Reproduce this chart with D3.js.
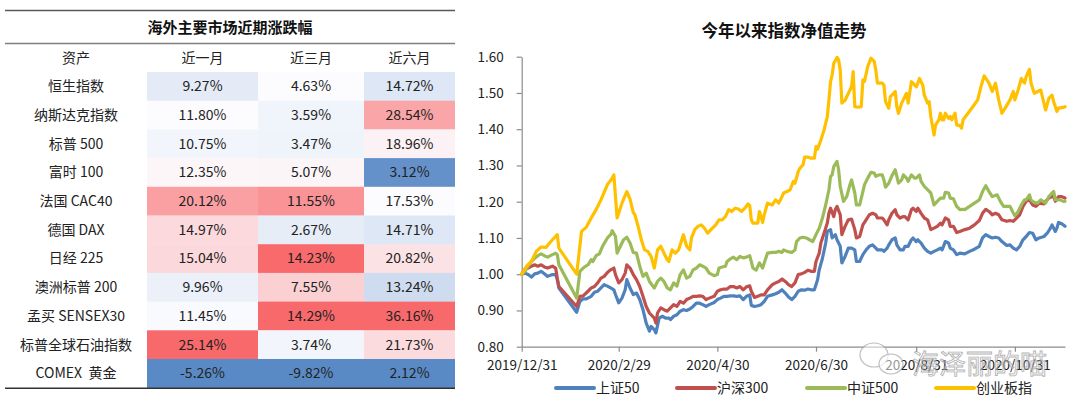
<!DOCTYPE html>
<html><head><meta charset="utf-8">
<script src="https://cdn.jsdelivr.net/npm/d3@7"></script>
<style>
html,body{margin:0;padding:0;background:#fff;}
svg{display:block;font-family:"Noto Sans CJK SC","Noto Sans",sans-serif;}
</style></head>
<body><svg id="c" width="1080" height="411"></svg>
<script>
// ---------------- Table data ----------------
const tableTitle = "海外主要市场近期涨跌幅";
const headers = ["资产", "近一月", "近三月", "近六月"];
const assets = ["恒生指数", "纳斯达克指数", "标普 500", "富时 100", "法国 CAC40", "德国 DAX", "日经 225", "澳洲标普 200", "孟买 SENSEX30", "标普全球石油指数", "COMEX  黄金"];
const m1 = [9.27, 11.80, 10.75, 12.35, 20.12, 14.97, 15.04, 9.96, 11.45, 25.14, -5.26];
const m3 = [4.63, 3.59, 3.47, 5.07, 11.55, 2.67, 14.23, 7.55, 14.29, 3.74, -9.82];
const m6 = [14.72, 28.54, 18.96, 3.12, 17.53, 14.71, 20.82, 13.24, 36.16, 21.73, 2.12];

// ---------------- Line chart data ----------------
const chartTitle = "今年以来指数净值走势";
const startDate = "2019-12-31";
const endDay = 336;
const seriesNames = ["上证50", "沪深300", "中证500", "创业板指"];
const yTicks = [0.8, 0.9, 1.0, 1.1, 1.2, 1.3, 1.4, 1.5, 1.6];
const xTickLabels = ["2019/12/31", "2020/2/29", "2020/4/30", "2020/6/30", "2020/8/31", "2020/10/31"];

// days since 2019/12/31 and net values
const sz50Days = [0,2,4,6,8,10,12,14,16,19,21,22,23,34,36,38,40,43,45,47,49,51,53,55,57,58,60,62,64,65,67,69,71,73,75,77,79,80,82,83,85,87,89,91,92,94,96,98,100,102,104,106,108,110,112,114,116,119,121,123,125,127,129,131,133,135,137,139,141,142,144,146,148,150,152,155,157,159,161,163,165,167,169,171,173,175,177,179,181,183,184,186,188,189,191,192,194,195,197,198,200,202,204,206,207,209,211,213,215,217,219,220,223,224,226,227,229,231,232,234,236,237,239,241,242,244,245,247,249,251,253,255,257,259,260,262,264,265,267,269,271,274,277,280,283,285,287,289,291,293,295,297,300,302,304,306,308,310,312,314,316,318,320,323,325,327,328,330,331,332,334,336];
const sz50 = [1.000,1.003,0.999,0.992,1.001,1.003,1.008,1.001,0.994,0.999,0.999,0.985,0.962,0.895,0.925,0.932,0.932,0.939,0.950,0.953,0.962,0.971,0.967,0.962,0.957,0.944,0.921,0.934,0.957,0.985,0.962,0.944,0.948,0.930,0.902,0.865,0.843,0.856,0.847,0.838,0.879,0.884,0.879,0.879,0.875,0.884,0.888,0.898,0.902,0.900,0.904,0.911,0.920,0.920,0.916,0.911,0.916,0.922,0.930,0.934,0.939,0.939,0.940,0.940,0.939,0.940,0.930,0.939,0.943,0.914,0.911,0.913,0.916,0.925,0.939,0.943,0.946,0.950,0.957,0.948,0.937,0.930,0.939,0.953,0.957,0.956,0.959,0.957,0.957,0.985,1.012,1.044,1.086,1.118,1.123,1.100,1.109,1.095,1.077,1.031,1.049,1.072,1.072,1.067,1.035,1.035,1.054,1.067,1.077,1.081,1.072,1.067,1.067,1.063,1.072,1.081,1.095,1.100,1.081,1.067,1.067,1.077,1.077,1.095,1.100,1.090,1.095,1.086,1.072,1.063,1.058,1.063,1.067,1.072,1.067,1.090,1.086,1.072,1.067,1.054,1.058,1.056,1.063,1.069,1.077,1.100,1.109,1.104,1.100,1.102,1.100,1.090,1.079,1.081,1.072,1.067,1.077,1.095,1.104,1.115,1.113,1.095,1.100,1.104,1.113,1.127,1.136,1.118,1.127,1.143,1.139,1.132];

const hs300Days = [0,2,4,6,8,10,12,14,16,19,21,22,23,34,36,38,41,43,45,47,49,51,53,55,57,58,60,62,64,65,67,69,71,73,75,77,79,82,83,84,86,88,90,92,94,96,98,100,102,104,106,108,110,112,114,116,119,121,123,125,127,129,131,133,135,137,139,141,142,144,146,148,150,152,155,157,159,161,163,165,167,169,171,173,175,177,179,181,182,184,185,187,189,190,191,193,194,195,197,198,200,202,204,206,207,209,211,213,215,217,219,220,223,224,226,227,229,231,232,234,236,237,239,241,242,244,245,247,249,251,253,255,257,259,260,262,264,265,267,269,271,274,277,280,283,285,287,289,291,293,295,297,300,302,304,306,308,310,312,314,316,318,320,323,324,326,328,329,330,332,334,336];
const hs300 = [1.000,1.014,1.017,1.022,1.026,1.022,1.026,1.020,1.017,1.022,1.017,0.989,0.966,0.911,0.939,0.940,0.953,0.962,0.966,0.976,0.989,0.994,1.005,1.012,1.017,0.999,0.976,0.985,1.003,1.026,1.017,0.999,0.985,0.966,0.939,0.911,0.893,0.879,0.865,0.893,0.907,0.902,0.898,0.907,0.916,0.911,0.925,0.920,0.930,0.934,0.939,0.939,0.940,0.939,0.930,0.934,0.939,0.953,0.957,0.959,0.959,0.966,0.966,0.962,0.966,0.957,0.965,0.968,0.953,0.936,0.939,0.943,0.943,0.957,0.971,0.976,0.980,0.987,0.980,0.971,0.966,0.976,0.999,1.001,1.005,1.011,1.008,1.008,1.035,1.058,1.086,1.113,1.141,1.168,1.182,1.159,1.179,1.187,1.164,1.109,1.132,1.150,1.152,1.123,1.100,1.104,1.136,1.150,1.164,1.168,1.164,1.155,1.155,1.150,1.136,1.150,1.168,1.178,1.164,1.155,1.159,1.159,1.150,1.178,1.182,1.173,1.182,1.168,1.155,1.150,1.123,1.127,1.132,1.141,1.136,1.155,1.150,1.132,1.132,1.115,1.118,1.123,1.127,1.136,1.148,1.168,1.179,1.173,1.164,1.168,1.164,1.150,1.146,1.148,1.146,1.155,1.164,1.187,1.201,1.205,1.191,1.187,1.196,1.194,1.201,1.210,1.214,1.214,1.201,1.214,1.214,1.210];

const zz500Days = [0,2,4,6,8,10,12,14,16,19,21,22,23,34,36,38,41,43,44,46,48,50,53,55,56,58,59,61,63,65,67,69,71,73,75,77,79,82,84,86,88,90,92,94,96,98,100,102,104,106,108,110,112,114,116,119,121,122,124,126,127,129,131,133,135,137,139,141,142,143,145,147,149,150,152,155,157,159,161,162,164,167,169,170,172,174,176,178,180,182,184,186,188,190,191,192,193,195,196,197,199,201,203,204,206,207,209,211,212,214,216,218,219,221,223,224,225,227,229,231,232,233,235,236,238,239,241,243,244,246,247,249,251,253,255,257,259,261,262,264,265,267,269,271,273,274,277,280,283,285,287,289,291,294,296,298,300,302,304,305,307,309,311,312,314,315,317,319,321,324,326,328,329,330,333,335,336];
const zz500 = [1.000,1.008,1.022,1.035,1.044,1.051,1.056,1.051,1.047,1.054,1.058,1.054,1.026,0.934,1.008,1.017,1.026,1.040,1.035,1.051,1.056,1.077,1.100,1.109,1.120,1.104,1.058,1.077,1.095,1.102,1.086,1.060,1.058,1.022,0.994,1.003,0.980,0.962,0.980,0.989,0.980,0.962,0.957,0.976,0.967,0.999,1.012,0.989,0.994,1.012,1.017,1.026,1.022,1.017,1.003,0.996,0.999,1.017,1.020,1.022,1.035,1.042,1.047,1.040,1.049,1.045,1.047,1.051,1.035,1.017,1.011,1.031,1.017,1.031,1.058,1.060,1.060,1.063,1.060,1.067,1.063,1.060,1.067,1.090,1.100,1.102,1.100,1.095,1.090,1.109,1.127,1.155,1.191,1.233,1.270,1.274,1.297,1.311,1.288,1.242,1.201,1.214,1.247,1.260,1.224,1.191,1.191,1.228,1.247,1.265,1.281,1.279,1.270,1.274,1.274,1.260,1.240,1.251,1.272,1.288,1.270,1.251,1.260,1.274,1.265,1.256,1.274,1.265,1.265,1.274,1.256,1.242,1.233,1.224,1.191,1.201,1.210,1.210,1.226,1.224,1.210,1.208,1.187,1.178,1.179,1.178,1.187,1.196,1.205,1.228,1.244,1.228,1.214,1.219,1.201,1.187,1.187,1.187,1.169,1.161,1.173,1.191,1.205,1.205,1.219,1.205,1.198,1.196,1.205,1.196,1.214,1.224,1.228,1.205,1.205,1.201,1.201];

const cybDays = [0,3,6,9,12,15,19,22,23,34,37,40,43,46,49,53,56,57,59,62,65,67,69,70,72,74,76,78,80,82,84,86,88,90,91,93,95,97,99,100,102,104,105,107,109,111,113,115,117,120,122,124,126,128,130,132,134,136,138,140,141,142,143,144,146,147,149,150,152,155,157,159,161,162,164,166,168,169,171,172,174,175,177,179,181,182,183,185,187,189,190,191,192,193,195,196,197,198,200,202,204,205,206,208,210,211,212,214,216,218,219,220,223,224,225,227,228,230,231,232,233,235,237,238,239,241,242,244,245,246,248,249,251,252,253,255,256,258,259,260,261,262,264,265,266,268,269,271,272,273,276,279,282,284,286,289,291,293,295,297,299,302,304,305,307,309,311,312,314,315,317,319,321,324,326,328,329,331,332,335,336];
const cyb = [1.000,1.022,1.035,1.063,1.075,1.074,1.095,1.109,1.072,1.000,1.118,1.130,1.155,1.178,1.205,1.247,1.265,1.274,1.155,1.196,1.228,1.207,1.170,1.164,1.132,1.095,1.067,1.063,1.049,1.017,1.067,1.077,1.058,1.040,1.035,1.067,1.058,1.067,1.095,1.109,1.077,1.067,1.100,1.123,1.132,1.136,1.127,1.113,1.123,1.136,1.150,1.150,1.159,1.178,1.173,1.182,1.180,1.173,1.182,1.194,1.190,1.150,1.141,1.141,1.141,1.173,1.143,1.164,1.196,1.191,1.205,1.196,1.214,1.224,1.228,1.233,1.256,1.251,1.283,1.292,1.302,1.323,1.323,1.320,1.320,1.352,1.345,1.370,1.398,1.435,1.480,1.531,1.550,1.582,1.598,1.591,1.563,1.472,1.480,1.499,1.517,1.559,1.462,1.461,1.462,1.536,1.532,1.573,1.596,1.587,1.563,1.527,1.527,1.522,1.476,1.458,1.490,1.499,1.504,1.462,1.444,1.472,1.490,1.499,1.472,1.531,1.527,1.517,1.527,1.540,1.522,1.494,1.472,1.476,1.435,1.384,1.412,1.426,1.444,1.426,1.426,1.444,1.430,1.435,1.426,1.444,1.412,1.410,1.403,1.426,1.444,1.462,1.481,1.517,1.547,1.527,1.504,1.527,1.481,1.444,1.458,1.481,1.504,1.481,1.508,1.540,1.527,1.545,1.565,1.527,1.499,1.504,1.508,1.453,1.485,1.494,1.476,1.449,1.458,1.460,1.462];

// ---------------- Drawing ----------------
const svg = d3.select("#c");
svg.append("rect").attr("width", 1080).attr("height", 411).attr("fill", "#fff");

// ===== Table =====
const T = svg.append("g");
const colEdges = [5, 147, 258, 364, 455];
const rowTop = 72, rowH = 28.7;
const cols = [m1, m3, m6];
const rowY = d3.scaleBand().domain(d3.range(assets.length)).range([rowTop, rowTop + rowH * assets.length]).padding(0);

cols.forEach((vals, ci) => {
  const sorted = vals.slice().sort(d3.ascending);
  const color = d3.scaleLinear()
    .domain([d3.min(vals), d3.quantile(sorted, 0.5), d3.max(vals)])
    .range(["#5A8AC6", "#FCFCFF", "#F8696B"]).interpolate(d3.interpolateRgb);
  const x0 = colEdges[ci + 1], x1 = colEdges[ci + 2];
  T.selectAll(null).data(vals).enter().append("rect")
    .attr("x", x0).attr("y", (d, i) => rowY(i))
    .attr("width", x1 - x0).attr("height", rowY.bandwidth() + 0.3)
    .attr("fill", d => color(d));
  T.selectAll(null).data(vals).enter().append("text")
    .attr("x", (x0 + x1) / 2).attr("y", (d, i) => rowY(i) + rowY.bandwidth() / 2)
    .attr("dy", "0.35em").attr("text-anchor", "middle")
    .attr("font-size", 14).attr("fill", "#222")
    .text(d => d.toFixed(2) + "%");
});
T.selectAll(null).data(assets).enter().append("text")
  .attr("x", (colEdges[0] + colEdges[1]) / 2).attr("y", (d, i) => rowY(i) + rowY.bandwidth() / 2)
  .attr("dy", "0.35em").attr("text-anchor", "middle")
  .attr("font-size", 14).attr("fill", "#222").style("white-space", "pre")
  .text(d => d);
T.selectAll(null).data(headers).enter().append("text")
  .attr("x", (d, i) => (colEdges[i] + colEdges[i + 1]) / 2).attr("y", 58)
  .attr("dy", "0.35em").attr("text-anchor", "middle")
  .attr("font-size", 14).attr("fill", "#222").text(d => d);
T.append("text").attr("x", 230).attr("y", 28).attr("dy", "0.36em")
  .attr("text-anchor", "middle").attr("font-size", 15).attr("font-weight", "bold")
  .attr("fill", "#111").text(tableTitle);
T.append("line").attr("x1", 5).attr("x2", 455).attr("y1", 10.5).attr("y2", 10.5).attr("stroke", "#595959").attr("stroke-width", 1.5);
T.append("line").attr("x1", 5).attr("x2", 455).attr("y1", 43.5).attr("y2", 43.5).attr("stroke", "#7f7f7f").attr("stroke-width", 1.5);
T.append("line").attr("x1", 5).attr("x2", 455).attr("y1", 388.3).attr("y2", 388.3).attr("stroke", "#333").attr("stroke-width", 1.5);

// ===== Line chart =====
const C = svg.append("g");
const t0 = d3.timeParse("%Y-%m-%d")(startDate);
const x = d3.scaleTime().domain([t0, d3.timeDay.offset(t0, endDay)]).range([521.7, 1065]);
const y = d3.scaleLinear().domain([0.8, 1.6]).range([346.7, 56.7]);
const parseLabel = d3.timeParse("%Y/%m/%d");

C.append("text").attr("x", 784).attr("y", 31).attr("dy", "0.36em")
  .attr("text-anchor", "middle").attr("font-size", 16.5).attr("font-weight", "bold")
  .attr("fill", "#111").text(chartTitle);

const yAxis = C.append("g").attr("transform", "translate(521.7,0)")
  .call(d3.axisLeft(y).tickValues(yTicks).tickFormat(d3.format(".2f")).tickSize(5).tickSizeOuter(0).tickPadding(13));
const xAxis = C.append("g").attr("transform", "translate(0,346.7)")
  .call(d3.axisBottom(x).tickValues(xTickLabels.map(parseLabel)).tickFormat(d3.timeFormat("%Y/%-m/%-d")).tickSize(5).tickSizeOuter(0).tickPadding(9));
[yAxis, xAxis].forEach(a => {
  a.select(".domain").attr("stroke", "#8c8c8c").attr("stroke-width", 1.2);
  a.selectAll(".tick line").attr("stroke", "#8c8c8c").attr("stroke-width", 1.2);
  a.selectAll("text").attr("font-size", 13.5).attr("fill", "#222")
    .attr("font-family", "'Noto Sans CJK SC','Noto Sans',sans-serif");
});

const colors = ["#4F81BD", "#C0504D", "#9BBB59", "#FFC000"];
const seriesDays = [sz50Days, hs300Days, zz500Days, cybDays];
const seriesVals = [sz50, hs300, zz500, cyb];
const line = d3.line().x(d => x(d.date)).y(d => y(d.v));
seriesVals.forEach((vals, si) => {
  const pts = vals.map((v, i) => ({ date: d3.timeDay.offset(t0, seriesDays[si][i]), v }));
  C.append("path").datum(pts).attr("d", line).attr("fill", "none")
    .attr("stroke", colors[si]).attr("stroke-width", 3.2)
    .attr("stroke-linejoin", "round").attr("stroke-linecap", "round");
});

// legend
const legendX = [556, 677, 807, 936];
const L = C.append("g");
seriesNames.forEach((n, i) => {
  L.append("line").attr("x1", legendX[i]).attr("x2", legendX[i] + 38).attr("y1", 388).attr("y2", 388)
    .attr("stroke", colors[i]).attr("stroke-width", 4).attr("stroke-linecap", "round");
  L.append("text").attr("x", legendX[i] + 40).attr("y", 388).attr("dy", "0.35em")
    .attr("font-size", 14).attr("fill", "#222").text(n);
});

// watermark
const W = svg.append("g").attr("opacity", 0.75);
W.append("ellipse").attr("cx", 874).attr("cy", 355).attr("rx", 14).attr("ry", 12)
  .attr("fill", "rgba(255,255,255,0.7)").attr("stroke", "#aaa").attr("stroke-width", 1.2);
W.append("ellipse").attr("cx", 891).attr("cy", 364).attr("rx", 12).attr("ry", 10)
  .attr("fill", "rgba(255,255,255,0.7)").attr("stroke", "#aaa").attr("stroke-width", 1.2);
W.append("text").attr("x", 912).attr("y", 364).attr("dy", "0.36em")
  .attr("font-size", 27).attr("fill", "rgba(255,255,255,0.55)")
  .attr("stroke", "#9a9a9a").attr("stroke-width", 0.9).text("海泽丽的喵");
</script></body></html>
